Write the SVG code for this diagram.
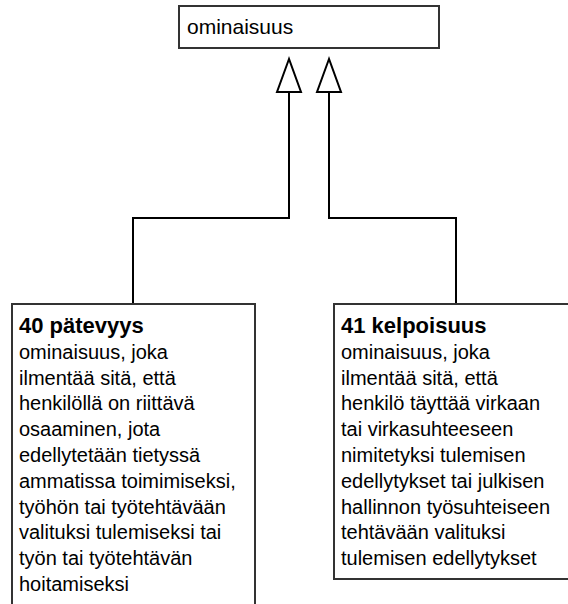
<svg xmlns="http://www.w3.org/2000/svg" width="568" height="604" viewBox="0 0 568 604">
<style>
.box{fill:#fff;stroke:#333;stroke-width:2}
.t{font-family:"Liberation Sans",Arial,sans-serif;font-size:20px;fill:#000}
.b{font-weight:bold;font-size:22px}
.c{fill:none;stroke:#000;stroke-width:2}
.h{fill:#fff;stroke:#000;stroke-width:2;stroke-linejoin:miter}
</style>
<rect width="568" height="604" fill="#fff"/>
<g id="connectors">
<path class="c" d="M289 92 V218 H133 V303"/>
<path class="c" d="M329 92 V218 H456 V304"/>
<polygon class="h" points="289,59 277,92 301,92"/>
<polygon class="h" points="329,59 317,92 341,92"/>
</g>
<g id="ominaisuus">
<rect class="box" x="179" y="6" width="260" height="42"/>
<text class="t" x="187" y="34" style="font-size:21px">ominaisuus</text>
</g>
<g id="n40">
<rect class="box" x="12" y="304" width="243" height="320"/>
<text class="t" x="19" y="333"><tspan class="b">40 pätevyys</tspan><tspan x="19" dy="25.8">ominaisuus, joka</tspan><tspan x="19" dy="25.8">ilmentää sitä, että</tspan><tspan x="19" dy="25.8">henkilöllä on riittävä</tspan><tspan x="19" dy="25.8">osaaminen, jota</tspan><tspan x="19" dy="25.8">edellytetään tietyssä</tspan><tspan x="19" dy="25.8">ammatissa toimimiseksi,</tspan><tspan x="19" dy="25.8">työhön tai työtehtävään</tspan><tspan x="19" dy="25.8">valituksi tulemiseksi tai</tspan><tspan x="19" dy="25.8">työn tai työtehtävän</tspan><tspan x="19" dy="25.8">hoitamiseksi</tspan></text>
</g>
<g id="n41">
<rect class="box" x="334" y="304" width="243" height="275"/>
<text class="t" x="341" y="333"><tspan class="b">41 kelpoisuus</tspan><tspan x="341" dy="25.8">ominaisuus, joka</tspan><tspan x="341" dy="25.8">ilmentää sitä, että</tspan><tspan x="341" dy="25.8">henkilö täyttää virkaan</tspan><tspan x="341" dy="25.8">tai virkasuhteeseen</tspan><tspan x="341" dy="25.8">nimitetyksi tulemisen</tspan><tspan x="341" dy="25.8">edellytykset tai julkisen</tspan><tspan x="341" dy="25.8">hallinnon työsuhteiseen</tspan><tspan x="341" dy="25.8">tehtävään valituksi</tspan><tspan x="341" dy="25.8">tulemisen edellytykset</tspan></text>
</g>
</svg>
